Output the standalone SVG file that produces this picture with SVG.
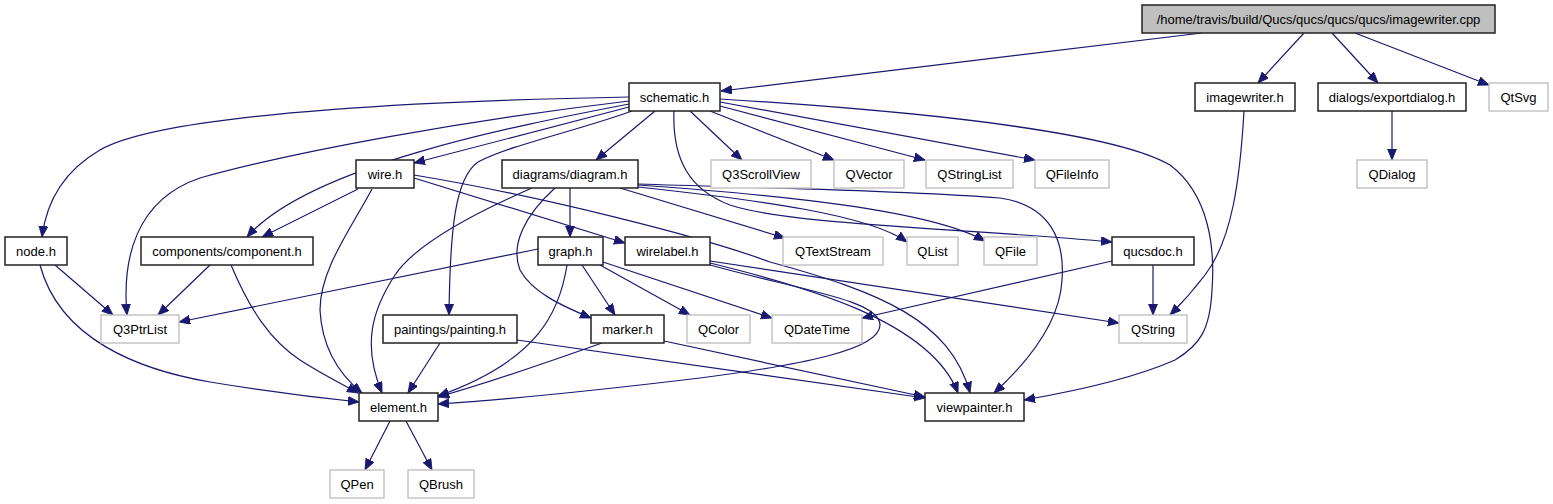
<svg xmlns="http://www.w3.org/2000/svg" width="1553" height="504" viewBox="0 0 1553 504">
<style>
  .n rect { fill: #ffffff; stroke: #222222; stroke-width: 1.5; }
  .g rect { fill: #ffffff; stroke: #c0c0c0; stroke-width: 1.4; }
  .r rect { fill: #bfbfbf; stroke: #222222; stroke-width: 1.5; }
  text { font-family: "Liberation Sans", Arial, Helvetica, sans-serif; font-size: 13px; fill: #000000; text-anchor: middle; }
  .e path { fill: none; stroke: #191970; stroke-width: 1.2; marker-end: url(#arr); }
</style>
<defs>
  <marker id="arr" markerUnits="userSpaceOnUse" markerWidth="13" markerHeight="10" refX="11" refY="4.5" orient="auto">
    <path d="M0,0 L11,4.5 L0,9 z" fill="#191970" stroke="#191970" stroke-width="0.8"/>
  </marker>
</defs>
<rect width="1553" height="504" fill="#ffffff"/>
<g id="edges" class="e">
  <path d="M1202,33 L721,91"/>
  <path d="M1304,33 L1258,83"/>
  <path d="M1332,33 L1378,83"/>
  <path d="M1355,33 L1489,85"/>
  <path d="M1244,111 C1240,180 1232,240 1205,275 C1192,292 1180,305 1170,315"/>
  <path d="M1392,111 L1392,160"/>
  <path d="M629,97 C470,100 170,110 100,150 C62,172 46,205 42,237"/>
  <path d="M629,101 C470,120 300,150 200,178 C135,200 122,260 127,315"/>
  <path d="M629,104 C520,125 310,165 247,237"/>
  <path d="M629,107 L414,163"/>
  <path d="M655,111 L596,160"/>
  <path d="M632,111 C580,130 510,145 478,162 C455,178 450,230 449,315"/>
  <path d="M690,111 L742,160"/>
  <path d="M710,111 L834,160"/>
  <path d="M720,106 L925,160"/>
  <path d="M720,102 L1035,160"/>
  <path d="M674,111 C672,160 690,190 730,205 C790,225 960,228 1112,242"/>
  <path d="M720,99 C900,110 1110,130 1170,165 C1210,195 1215,250 1212,290 C1210,330 1200,345 1175,360 C1130,380 1070,392 1024,400"/>
  <path d="M570,188 L570,237"/>
  <path d="M555,188 C525,215 510,245 520,270 C532,292 560,305 591,318"/>
  <path d="M532,188 C470,215 415,245 395,275 C372,310 362,345 382,393"/>
  <path d="M620,188 L785,238"/>
  <path d="M638,187 C760,200 870,215 907,242"/>
  <path d="M638,185 C780,195 930,210 985,241"/>
  <path d="M638,184 C760,188 900,190 1000,198 C1050,205 1065,240 1062,280 C1060,320 1030,360 994,393"/>
  <path d="M358,189 L262,237"/>
  <path d="M372,189 C350,230 320,270 320,310 C322,350 340,375 362,393"/>
  <path d="M414,178 L625,243"/>
  <path d="M414,175 C540,196 700,236 770,262 C880,292 950,320 970,393"/>
  <path d="M55,265 L113,315"/>
  <path d="M40,265 C60,340 140,370 210,382 C270,392 320,398 359,402"/>
  <path d="M210,265 L158,315"/>
  <path d="M231,265 C250,310 270,340 300,360 C320,373 340,383 358,393"/>
  <path d="M538,249 L179,322"/>
  <path d="M567,265 C560,310 540,360 438,396"/>
  <path d="M582,265 L615,315"/>
  <path d="M600,265 L690,315"/>
  <path d="M603,262 L772,318"/>
  <path d="M440,343 L408,393"/>
  <path d="M517,340 L925,398"/>
  <path d="M602,343 C540,365 480,385 438,397"/>
  <path d="M664,341 L925,397"/>
  <path d="M710,261 L1119,323"/>
  <path d="M710,263 C800,285 930,320 958,393"/>
  <path d="M710,265 C800,290 880,300 880,325 C880,350 800,365 700,378 C600,390 500,400 438,404"/>
  <path d="M1153,265 L1153,315"/>
  <path d="M1112,261 L862,318"/>
  <path d="M390,421 L365,470"/>
  <path d="M406,421 L432,470"/>
</g>
<g id="root" class="r"><rect x="1142" y="5" width="353" height="28"/><text x="1318.5" y="23.5">/home/travis/build/Qucs/qucs/qucs/qucs/imagewriter.cpp</text></g>
<g id="imagewriter_h" class="n"><rect x="1195" y="83" width="100" height="28"/><text x="1245" y="101.5">imagewriter.h</text></g>
<g id="exportdialog_h" class="n"><rect x="1318" y="83" width="148" height="28"/><text x="1392" y="101.5">dialogs/exportdialog.h</text></g>
<g id="QtSvg" class="g"><rect x="1489" y="83" width="59" height="28"/><text x="1518.5" y="101.5">QtSvg</text></g>
<g id="QDialog" class="g"><rect x="1357" y="160" width="70" height="28"/><text x="1392" y="178.5">QDialog</text></g>
<g id="schematic_h" class="n"><rect x="629" y="83" width="91" height="28"/><text x="674.5" y="101.5">schematic.h</text></g>
<g id="Q3ScrollView" class="g"><rect x="711" y="160" width="100" height="28"/><text x="761" y="178.5">Q3ScrollView</text></g>
<g id="QVector" class="g"><rect x="834" y="160" width="70" height="28"/><text x="869" y="178.5">QVector</text></g>
<g id="QStringList" class="g"><rect x="926" y="160" width="87" height="28"/><text x="969.5" y="178.5">QStringList</text></g>
<g id="QFileInfo" class="g"><rect x="1035" y="160" width="74" height="28"/><text x="1072" y="178.5">QFileInfo</text></g>
<g id="node_h" class="n"><rect x="5" y="237" width="62" height="28"/><text x="36" y="255.5">node.h</text></g>
<g id="component_h" class="n"><rect x="141" y="237" width="172" height="28"/><text x="227" y="255.5">components/component.h</text></g>
<g id="Q3PtrList" class="g"><rect x="101" y="315" width="78" height="28"/><text x="140" y="333.5">Q3PtrList</text></g>
<g id="wire_h" class="n"><rect x="356" y="160" width="58" height="28"/><text x="385" y="178.5">wire.h</text></g>
<g id="diagram_h" class="n"><rect x="502" y="160" width="136" height="28"/><text x="570" y="178.5">diagrams/diagram.h</text></g>
<g id="graph_h" class="n"><rect x="538" y="237" width="65" height="28"/><text x="570.5" y="255.5">graph.h</text></g>
<g id="wirelabel_h" class="n"><rect x="625" y="237" width="85" height="28"/><text x="667.5" y="255.5">wirelabel.h</text></g>
<g id="painting_h" class="n"><rect x="383" y="315" width="134" height="28"/><text x="450" y="333.5">paintings/painting.h</text></g>
<g id="marker_h" class="n"><rect x="591" y="315" width="73" height="28"/><text x="627.5" y="333.5">marker.h</text></g>
<g id="QColor" class="g"><rect x="687" y="315" width="63" height="28"/><text x="718.5" y="333.5">QColor</text></g>
<g id="QDateTime" class="g"><rect x="772" y="315" width="90" height="28"/><text x="817" y="333.5">QDateTime</text></g>
<g id="QTextStream" class="g"><rect x="783" y="237" width="100" height="28"/><text x="833" y="255.5">QTextStream</text></g>
<g id="QList" class="g"><rect x="907" y="237" width="51" height="28"/><text x="932.5" y="255.5">QList</text></g>
<g id="QFile" class="g"><rect x="984" y="237" width="53" height="28"/><text x="1010.5" y="255.5">QFile</text></g>
<g id="qucsdoc_h" class="n"><rect x="1112" y="237" width="82" height="28"/><text x="1153" y="255.5">qucsdoc.h</text></g>
<g id="QString" class="g"><rect x="1119" y="315" width="68" height="28"/><text x="1153" y="333.5">QString</text></g>
<g id="element_h" class="n"><rect x="359" y="393" width="79" height="28"/><text x="398.5" y="411.5">element.h</text></g>
<g id="viewpainter_h" class="n"><rect x="925" y="393" width="99" height="28"/><text x="974.5" y="411.5">viewpainter.h</text></g>
<g id="QPen" class="g"><rect x="330" y="470" width="54" height="28"/><text x="357" y="488.5">QPen</text></g>
<g id="QBrush" class="g"><rect x="408" y="470" width="66" height="28"/><text x="441" y="488.5">QBrush</text></g>
</svg>
